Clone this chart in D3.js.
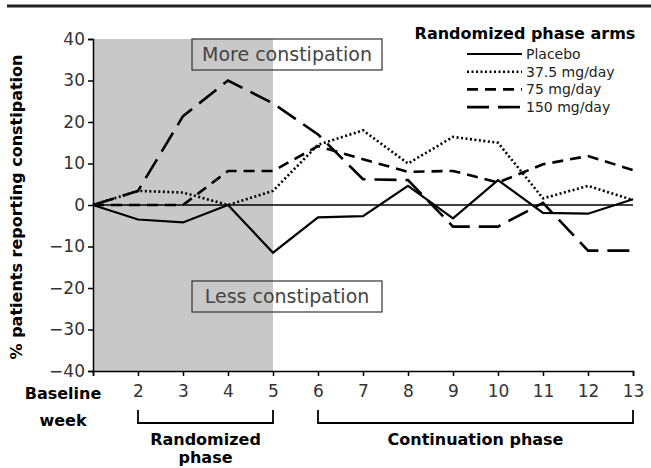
<!DOCTYPE html>
<html>
<head>
<meta charset="utf-8">
<script src="https://cdn.jsdelivr.net/npm/d3@7"></script>
<style>
  body { margin: 0; background: #fff; }
  text { font-family: "DejaVu Sans", sans-serif; }
</style>
</head>
<body>
<svg width="651" height="468"></svg>
<script>
// data
var weeks = [1, 2, 3, 4, 5, 6, 7, 8, 9, 10, 11, 12, 13];
var placebo = [0, -3.5, -4.2, 0, -11.5, -3, -2.7, 4.6, -3.2, 6, -1.9, -2.1, 1.4];
var mg37 = [0, 3.4, 3, 0, 3.4, 14.5, 18, 10, 16.4, 15, 1.6, 4.6, 1.2];
var mg75 = [0, 0, 0, 8.2, 8.2, 14.2, 11, 8, 8.2, 5.4, 9.8, 11.8, 8.4];
var mg150 = [0, 3.4, 21.4, 30, 24.5, 17, 6.2, 6, -5.2, -5.2, 0.5, -11, -11];
var seriesNames = ["Placebo", "37.5 mg/day", "75 mg/day", "150 mg/day"];
var yTicks = [-40, -30, -20, -10, 0, 10, 20, 30, 40];

var svg = d3.select("svg");

var x = d3.scaleLinear().domain([1, 13]).range([93, 633]);
var y = d3.scaleLinear().domain([-40, 40]).range([371, 39]);

// top rule
svg.append("line")
  .attr("x1", 7).attr("x2", 651).attr("y1", 6).attr("y2", 6)
  .attr("stroke", "#222").attr("stroke-width", 3);

// shaded randomized phase
svg.append("rect")
  .attr("x", x(1)).attr("y", y(40))
  .attr("width", x(5) - x(1)).attr("height", y(-40) - y(40))
  .attr("fill", "#c8c8c8");

// zero line
svg.append("line")
  .attr("x1", x(1)).attr("x2", x(13)).attr("y1", y(0)).attr("y2", y(0))
  .attr("stroke", "#000").attr("stroke-width", 1.5);

// annotation boxes
function noteBox(label, yTop) {
  var g = svg.append("g");
  g.append("rect")
    .attr("x", 192).attr("y", yTop).attr("width", 190).attr("height", 31)
    .attr("fill", "none").attr("stroke", "#333").attr("stroke-width", 1.2);
  g.append("text")
    .attr("x", 287).attr("y", yTop + 22)
    .attr("text-anchor", "middle")
    .attr("font-size", 19).attr("fill", "#444")
    .text(label);
}
noteBox("More constipation", 39);
noteBox("Less constipation", 281);

// series
var series = [
  { name: seriesNames[0], values: placebo, dash: null, width: 2.2 },
  { name: seriesNames[1], values: mg37, dash: "2,2.5", width: 2.6 },
  { name: seriesNames[2], values: mg75, dash: "11,7", width: 2.6 },
  { name: seriesNames[3], values: mg150, dash: "22,9", width: 2.6 }
];

var line = d3.line()
  .x(function(d, i) { return x(weeks[i]); })
  .y(function(d) { return y(d); });

svg.append("g")
  .selectAll("path")
  .data(series)
  .enter()
  .append("path")
    .attr("d", function(d) { return line(d.values); })
    .attr("fill", "none")
    .attr("stroke", "#000")
    .attr("stroke-width", function(d) { return d.width; })
    .attr("stroke-dasharray", function(d) { return d.dash; });

// axes
var yAxis = svg.append("g")
  .attr("transform", "translate(" + x(1) + ",0)")
  .call(d3.axisLeft(y).tickValues(yTicks).tickSize(5).tickPadding(3)
    .tickFormat(function(d) { return d < 0 ? "\u2212" + Math.abs(d) : d; }));
yAxis.selectAll("text").attr("font-size", 17).attr("fill", "#333");
yAxis.select(".domain").attr("stroke-width", 1.5);

var xAxis = svg.append("g")
  .attr("transform", "translate(0," + y(-40) + ")")
  .call(d3.axisBottom(x).tickValues(weeks).tickSize(5).tickPadding(9)
    .tickFormat(function(d) { return d === 1 ? "" : d; }));
xAxis.selectAll("text").attr("font-size", 17).attr("fill", "#333");
xAxis.select(".domain").attr("stroke-width", 1.5);
xAxis.selectAll("line").attr("stroke-width", 1.5);
yAxis.selectAll("line").attr("stroke-width", 1.5);

// baseline label
svg.append("text")
  .attr("x", 63).attr("y", 399).attr("text-anchor", "middle")
  .attr("font-size", 16).attr("font-weight", "bold").text("Baseline");
svg.append("text")
  .attr("x", 63).attr("y", 426).attr("text-anchor", "middle")
  .attr("font-size", 16).attr("font-weight", "bold").text("week");

// phase brackets
function bracket(w0, w1, labels) {
  var x0 = x(w0), x1 = x(w1);
  svg.append("path")
    .attr("d", "M" + x0 + ",410V423H" + x1 + "V410")
    .attr("fill", "none").attr("stroke", "#000").attr("stroke-width", 1.8);
  labels.forEach(function(l, i) {
    svg.append("text")
      .attr("x", (x0 + x1) / 2).attr("y", 445 + i * 18)
      .attr("text-anchor", "middle")
      .attr("font-size", 16).attr("font-weight", "bold").text(l);
  });
}
bracket(2, 5, ["Randomized", "phase"]);
bracket(6, 13, ["Continuation phase"]);

// y title
svg.append("text")
  .attr("transform", "translate(22,207) rotate(-90)")
  .attr("text-anchor", "middle")
  .attr("font-size", 16).attr("font-weight", "bold")
  .text("% patients reporting constipation");

// legend
var legend = svg.append("g");
legend.append("text")
  .attr("x", 525).attr("y", 39).attr("text-anchor", "middle")
  .attr("font-size", 16).attr("font-weight", "bold")
  .text("Randomized phase arms");
var rows = legend.selectAll("g.row")
  .data(series)
  .enter()
  .append("g")
    .attr("class", "row")
    .attr("transform", function(d, i) { return "translate(0," + (54 + i * 17.7) + ")"; });
rows.append("line")
  .attr("x1", 467).attr("x2", 522).attr("y1", 0).attr("y2", 0)
  .attr("stroke", "#000")
  .attr("stroke-width", function(d) { return d.width; })
  .attr("stroke-dasharray", function(d) { return d.dash; });
rows.append("text")
  .attr("x", 526).attr("y", 5)
  .attr("font-size", 14).attr("fill", "#222")
  .text(function(d) { return d.name; });
</script>
</body>
</html>
